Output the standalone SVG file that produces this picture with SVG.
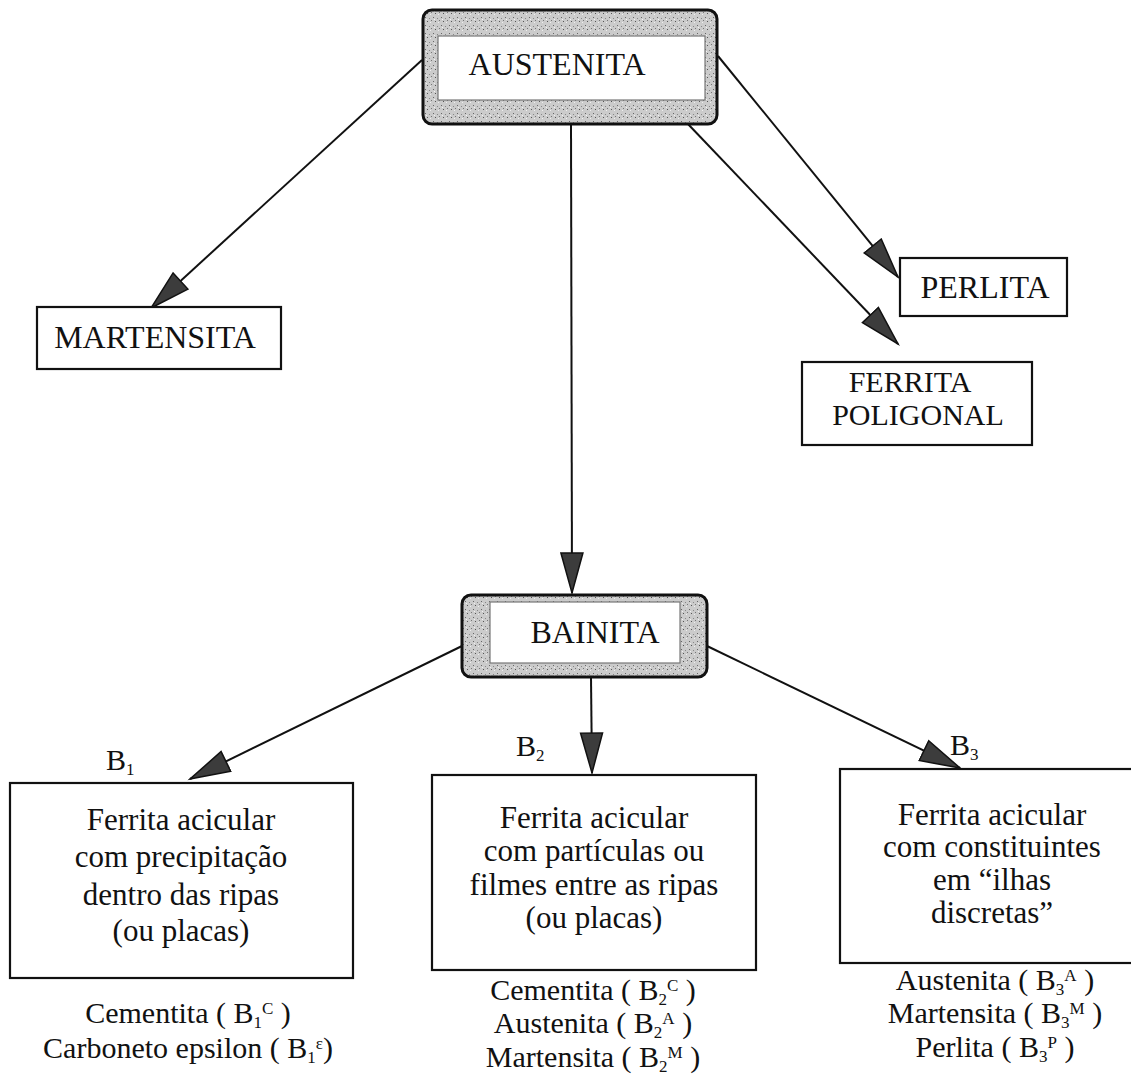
<svg xmlns="http://www.w3.org/2000/svg" width="1131" height="1091" viewBox="0 0 1131 1091" font-family="'Liberation Serif', 'Times New Roman', 'DejaVu Serif', serif">
<style>
text{font-family:'Liberation Serif','Times New Roman','DejaVu Serif',serif;fill:#111}
.t{font-size:31px;text-anchor:middle}
.b{font-size:30px;text-anchor:middle}
.u{font-size:32px;text-anchor:middle}
.s{font-size:17px}
.box{fill:#fff;stroke:#111;stroke-width:2.2}
.outer{fill:url(#speck);stroke:#111;stroke-width:3}
.inner{fill:#fff;stroke:#777;stroke-width:1.2}
.conn line{stroke:#111;stroke-width:2;marker-end:url(#ah)}
</style>
<defs>
<pattern id="speck" width="8" height="8" patternUnits="userSpaceOnUse">
<rect width="8" height="8" fill="#cbcbcb"/>
<rect x="1" y="1" width="1" height="1" fill="#666"/>
<rect x="5" y="2" width="1" height="1" fill="#888"/>
<rect x="3" y="5" width="1" height="1" fill="#555"/>
<rect x="6" y="6" width="1" height="1" fill="#eee"/>
<rect x="2" y="3" width="1" height="1" fill="#f2f2f2"/>
<rect x="7" y="4" width="1" height="1" fill="#777"/>
</pattern>
<marker id="ah" markerUnits="userSpaceOnUse" markerWidth="44" markerHeight="26" refX="41" refY="12" orient="auto">
<path d="M1,1 L41,12 L1,23 Z" fill="#3c3c3c" stroke="#111" stroke-width="1.5"/>
</marker>
</defs>

<g id="connectors" class="conn">
<line x1="422" y1="60" x2="151" y2="308"/>
<line x1="718" y1="56" x2="898" y2="277"/>
<line x1="687" y1="123" x2="898" y2="344"/>
<line x1="571" y1="124" x2="572" y2="593"/>
<line x1="462" y1="646" x2="190" y2="779"/>
<line x1="591" y1="677" x2="592" y2="773"/>
<line x1="707" y1="646" x2="960" y2="768"/>
</g>

<g id="austenita">
<rect class="outer" x="423" y="10" width="294" height="114" rx="9"/>
<rect class="inner" x="438" y="36" width="267" height="64"/>
<text class="u" x="557" y="75">AUSTENITA</text>
</g>

<g id="martensita">
<rect class="box" x="37" y="307" width="244" height="62"/>
<text class="u" x="155" y="348">MARTENSITA</text>
</g>

<g id="perlita">
<rect class="box" x="900" y="258" width="167" height="58"/>
<text class="u" x="985" y="298">PERLITA</text>
</g>

<g id="ferrita-poligonal">
<rect class="box" x="802" y="362" width="230" height="83"/>
<text class="b" x="910" y="392">FERRITA</text>
<text class="b" x="918" y="425">POLIGONAL</text>
</g>

<g id="bainita">
<rect class="outer" x="462" y="595" width="245" height="82" rx="9"/>
<rect class="inner" x="490" y="602" width="190" height="61"/>
<text class="u" x="595" y="643">BAINITA</text>
</g>

<g id="b1">
<text x="106" y="770" style="font-size:30px">B<tspan class="s" dy="5">1</tspan></text>
<rect class="box" x="10" y="783" width="343" height="195"/>
<text class="t" x="181" y="830">Ferrita acicular</text>
<text class="t" x="181" y="867">com precipitação</text>
<text class="t" x="181" y="905">dentro das ripas</text>
<text class="t" x="181" y="941">(ou placas)</text>
<text class="b" x="188" y="1023">Cementita ( B<tspan class="s" dy="5">1</tspan><tspan class="s" dy="-14">C</tspan><tspan dy="9"> )</tspan></text>
<text class="b" x="188" y="1058">Carboneto epsilon ( B<tspan class="s" dy="5">1</tspan><tspan class="s" dy="-14">ε</tspan><tspan dy="9">)</tspan></text>
</g>

<g id="b2">
<text x="516" y="756" style="font-size:30px">B<tspan class="s" dy="5">2</tspan></text>
<rect class="box" x="432" y="775" width="324" height="195"/>
<text class="t" x="594" y="828">Ferrita acicular</text>
<text class="t" x="594" y="861">com partículas ou</text>
<text class="t" x="594" y="895">filmes entre as ripas</text>
<text class="t" x="594" y="928">(ou placas)</text>
<text class="b" x="593" y="1000">Cementita ( B<tspan class="s" dy="5">2</tspan><tspan class="s" dy="-14">C</tspan><tspan dy="9"> )</tspan></text>
<text class="b" x="593" y="1033">Austenita ( B<tspan class="s" dy="5">2</tspan><tspan class="s" dy="-14">A</tspan><tspan dy="9"> )</tspan></text>
<text class="b" x="593" y="1067">Martensita ( B<tspan class="s" dy="5">2</tspan><tspan class="s" dy="-14">M</tspan><tspan dy="9"> )</tspan></text>
</g>

<g id="b3">
<text x="950" y="755" style="font-size:30px">B<tspan class="s" dy="5">3</tspan></text>
<rect class="box" x="840" y="769" width="305" height="194"/>
<text class="t" x="992" y="825">Ferrita acicular</text>
<text class="t" x="992" y="857">com constituintes</text>
<text class="t" x="992" y="890">em “ilhas</text>
<text class="t" x="992" y="923">discretas”</text>
<text class="b" x="995" y="990">Austenita ( B<tspan class="s" dy="5">3</tspan><tspan class="s" dy="-14">A</tspan><tspan dy="9"> )</tspan></text>
<text class="b" x="995" y="1023">Martensita ( B<tspan class="s" dy="5">3</tspan><tspan class="s" dy="-14">M</tspan><tspan dy="9"> )</tspan></text>
<text class="b" x="995" y="1057">Perlita ( B<tspan class="s" dy="5">3</tspan><tspan class="s" dy="-14">P</tspan><tspan dy="9"> )</tspan></text>
</g>
</svg>
